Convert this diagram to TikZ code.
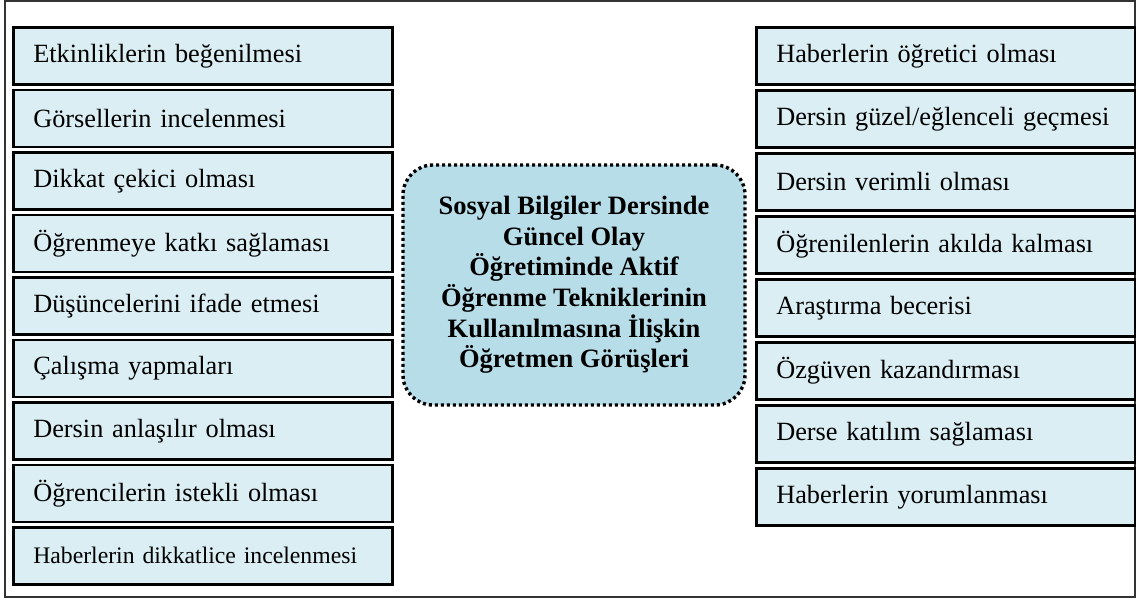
\documentclass[tikz,border=0pt]{standalone}
\usepackage{fontspec}
\setmainfont{Liberation Serif}
\definecolor{boxfill}{HTML}{DAEEF3}
\definecolor{centerfill}{HTML}{B7DDE8}
\definecolor{framecol}{HTML}{333333}
\begin{document}
\begin{tikzpicture}[x=1pt,y=-1pt,
  itembox/.style={draw=black, line width=2.6pt, fill=boxfill, rectangle,
    minimum height=57pt, inner xsep=20pt, inner ysep=0pt, text width=339pt, align=left,
    anchor=north west, font=\fontsize{26.3}{30}\selectfont},
  centerbox/.style={draw=black, line width=3.4pt, dash pattern=on 3pt off 3pt,
    fill=centerfill, rounded corners=30pt, minimum width=342pt, minimum height=240pt,
    align=center, font=\fontsize{26.5}{30.6}\selectfont\bfseries}]
\useasboundingbox (0,0) rectangle (1136,600);
\draw[framecol, line width=1.5pt] (5,1) rectangle (1135,597);
% left column
\node[itembox] (l1) at (12,26) {Etkinliklerin beğenilmesi};
\node[itembox] (l2) at (12,88.5) {Görsellerin incelenmesi};
\node[itembox] (l3) at (12,151) {Dikkat çekici olması};
\node[itembox] (l4) at (12,213.5) {Öğrenmeye katkı sağlaması};
\node[itembox] (l5) at (12,276) {Düşüncelerini ifade etmesi};
\node[itembox] (l6) at (12,338.5) {Çalışma yapmaları};
\node[itembox] (l7) at (12,401) {Dersin anlaşılır olması};
\node[itembox] (l8) at (12,463.5) {Öğrencilerin istekli olması};
\node[itembox, font=\fontsize{23.7}{27}\selectfont] (l9) at (12,526) {Haberlerin dikkatlice incelenmesi};
% right column
\begin{scope}[every node/.append style={text width=340pt}]
\node[itembox] (r1) at (755,26) {Haberlerin öğretici olması};
\node[itembox] (r2) at (755,89) {Dersin güzel/eğlenceli geçmesi};
\node[itembox] (r3) at (755,152) {Dersin verimli olması};
\node[itembox] (r4) at (755,215) {Öğrenilenlerin akılda kalması};
\node[itembox] (r5) at (755,278) {Araştırma becerisi};
\node[itembox] (r6) at (755,341) {Özgüven kazandırması};
\node[itembox] (r7) at (755,404) {Derse katılım sağlaması};
\node[itembox] (r8) at (755,467) {Haberlerin yorumlanması};
\end{scope}
% center
\node[centerbox] (c) at (574,285) {Sosyal Bilgiler Dersinde\\Güncel Olay\\Öğretiminde Aktif\\Öğrenme Tekniklerinin\\Kullanılmasına İlişkin\\Öğretmen Görüşleri};
\end{tikzpicture}
\end{document}
